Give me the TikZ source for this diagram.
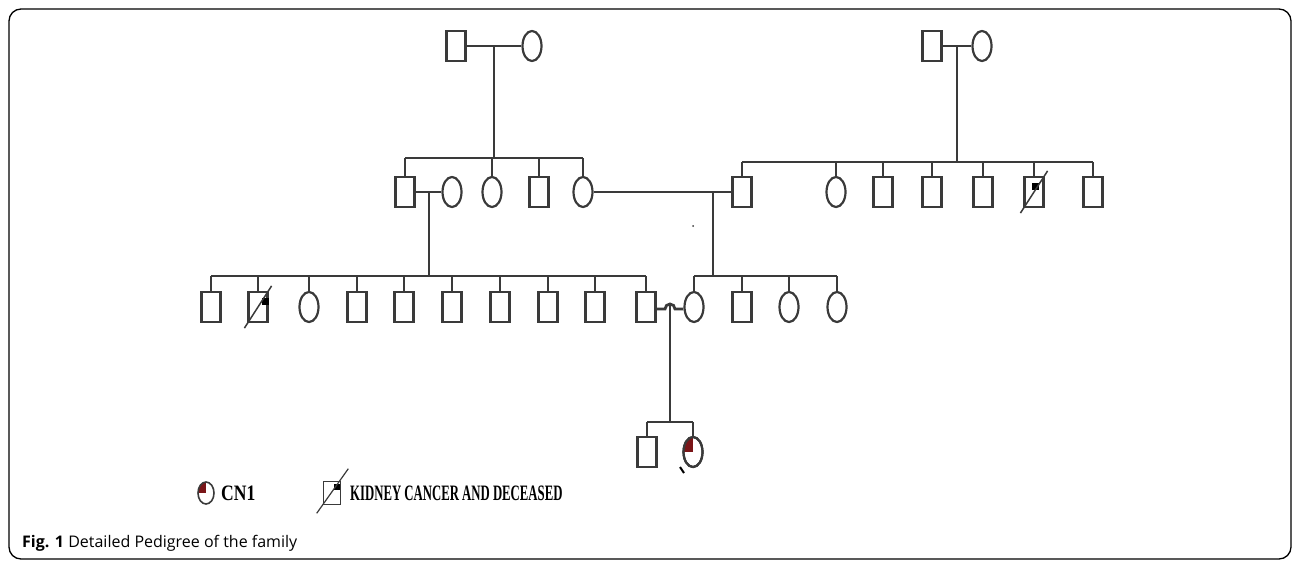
\documentclass[tikz,border=0pt]{standalone}
\usepackage{fontspec}
\setmainfont{Open Sans}
\newfontfamily\legendfont{Liberation Serif}[FakeStretch=0.58]
\newfontfamily\cnfont{Liberation Serif}[FakeStretch=0.8]
\usetikzlibrary{shapes.geometric,calc}
\definecolor{pedline}{HTML}{3A3A3A}
\definecolor{cnred}{HTML}{7A1518}

\begin{document}
\begin{tikzpicture}[x=1pt, y=-1pt,
    male/.style={draw=pedline, rectangle, line width=2.2pt, minimum width=19pt, minimum height=30pt, inner sep=0pt},
    female/.style={draw=pedline, ellipse, line width=2.2pt, minimum width=19pt, minimum height=30pt, inner sep=0pt},
    conn/.style={draw=pedline, line width=1.8pt},
    legtext/.style={font=\bfseries\fontsize{22}{24}\selectfont, inner sep=0pt, anchor=west}
    ]
    \useasboundingbox (0,0) rectangle (1295,565);
    \draw[line width=1.3pt, rounded corners=12pt] (9,9) rectangle (1291,559);

    % Generation I
    \node[male] (I1) at (456,46) {};
    \node[female] (I2) at (532,46) {};
    \node[male] (I3) at (932,46) {};
    \node[female] (I4) at (982,46) {};

    % Generation II
    \node[male] (II1) at (405,192) {};
    \node[female] (II2) at (452,192) {};
    \node[female] (II3) at (492,192) {};
    \node[male] (II4) at (539,192) {};
    \node[female] (II5) at (583,192) {};
    \node[male] (II6) at (742,192) {};
    \node[female] (II7) at (836,192) {};
    \node[male] (II8) at (883,192) {};
    \node[male] (II9) at (932,192) {};
    \node[male] (II10) at (983,192) {};
    \node[male] (II11) at (1034,192) {};
    \node[male] (II12) at (1093,192) {};

    % Generation III
    \node[male] (III1) at (211,307) {};
    \node[male] (III2) at (258,307) {};
    \node[female] (III3) at (309,307) {};
    \node[male] (III4) at (357,307) {};
    \node[male] (III5) at (404,307) {};
    \node[male] (III6) at (452,307) {};
    \node[male] (III7) at (500,307) {};
    \node[male] (III8) at (548,307) {};
    \node[male] (III9) at (595,307) {};
    \node[male] (III10) at (646,307) {};
    \node[female] (III11) at (694,307) {};
    \node[male] (III12) at (742,307) {};
    \node[female] (III13) at (789,307) {};
    \node[female] (III14) at (837,307) {};

    % Generation IV
    \node[male] (IV1) at (647,452) {};
    \node[female] (IV2) at (693,452) {};

    % Sibship lines and descent points
    \coordinate (s1) at (0,158);
    \coordinate (s2) at (0,162);
    \coordinate (s3) at (0,276);
    \coordinate (s4) at (0,422);
    \coordinate (m1) at ($(I1)!0.5!(I2)$);
    \coordinate (m2) at ($(I3)!0.5!(I4)$);
    \coordinate (m3) at (429,192);
    \coordinate (m4) at (713,192);
    \coordinate (hopL) at (665,309);
    \coordinate (hopT) at (670,304);

    % Marriage lines
    \draw[conn] (I1) -- (I2);
    \draw[conn] (I3) -- (I4);
    \draw[conn] (II1) -- (II2);
    \draw[conn] (II5) -- (II6);
    \draw[conn, line width=2.8pt] (III10.east |- hopL) -- (hopL) arc[start angle=180, end angle=0, radius=5pt] -- (III11.west |- hopL);

    % Descent lines
    \draw[conn, line width=1.5pt] (m1) -- (m1 |- s1);
    \draw[conn, line width=1.5pt] (m2) -- (m2 |- s2);
    \draw[conn] (m3) -- (m3 |- s3);
    \draw[conn, line width=1.3pt] (m4) -- (m4 |- s3);
    \draw[conn] (hopT) -- (hopT |- s4);

    % Sibships, generation II
    \draw[conn] (II1.north |- s1) -- (II5.north |- s1);
    \draw[conn] (II1.north) -- (II1.north |- s1);
    \draw[conn] (II3.north) -- (II3.north |- s1);
    \draw[conn] (II4.north) -- (II4.north |- s1);
    \draw[conn] (II5.north) -- (II5.north |- s1);
    \draw[conn] (II6.north |- s2) -- (II12.north |- s2);
    \draw[conn] (II6.north) -- (II6.north |- s2);
    \draw[conn] (II7.north) -- (II7.north |- s2);
    \draw[conn] (II8.north) -- (II8.north |- s2);
    \draw[conn] (II9.north) -- (II9.north |- s2);
    \draw[conn] (II10.north) -- (II10.north |- s2);
    \draw[conn] (II11.north) -- (II11.north |- s2);
    \draw[conn] (II12.north) -- (II12.north |- s2);

    % Sibships, generation III
    \draw[conn] (III1.north |- s3) -- (III10.north |- s3);
    \draw[conn] (III1.north) -- (III1.north |- s3);
    \draw[conn] (III2.north) -- (III2.north |- s3);
    \draw[conn] (III3.north) -- (III3.north |- s3);
    \draw[conn] (III4.north) -- (III4.north |- s3);
    \draw[conn] (III5.north) -- (III5.north |- s3);
    \draw[conn] (III6.north) -- (III6.north |- s3);
    \draw[conn] (III7.north) -- (III7.north |- s3);
    \draw[conn] (III8.north) -- (III8.north |- s3);
    \draw[conn] (III9.north) -- (III9.north |- s3);
    \draw[conn] (III10.north) -- (III10.north |- s3);
    \draw[conn] (III11.north |- s3) -- (III14.north |- s3);
    \draw[conn] (III11.north) -- (III11.north |- s3);
    \draw[conn] (III12.north) -- (III12.north |- s3);
    \draw[conn] (III13.north) -- (III13.north |- s3);
    \draw[conn] (III14.north) -- (III14.north |- s3);

    % Sibship, generation IV
    \draw[conn] (IV1.north |- s4) -- (IV2.north |- s4);
    \draw[conn] (IV1.north) -- (IV1.north |- s4);
    \draw[conn] (IV2.north) -- (IV2.north |- s4);

    % Deceased with kidney cancer
    \fill ($(III2)+(4,-9)$) rectangle +(7,7);
    \draw[conn, line width=1.5pt] ($(III2.south west)+(-3,5)$) -- ($(III2.north east)+(3,-5)$);
    \fill ($(II11)+(-2,-9)$) rectangle +(7,7);
    \draw[conn, line width=1.5pt] ($(II11.south west)+(-3,5)$) -- ($(II11.north east)+(3,-5)$);

    % CN1 proband
    \begin{scope}
      \clip (IV2) ellipse [x radius=9.5pt, y radius=15pt];
      \fill[cnred] (IV2) rectangle ++(-12,-17);
    \end{scope}
    \node[female] (IV2b) at (IV2) {};
    \draw[line width=2pt] (680,467) -- (684,473);
    \fill[pedline] (693,226) circle (1pt);

    % Legend
    \begin{scope}
      \clip (206,493) ellipse [x radius=8pt, y radius=11pt];
      \fill[cnred] (206,493) rectangle ++(-10,-12);
    \end{scope}
    \node[female, minimum width=16pt, minimum height=22pt, line width=1.6pt] (L1) at (206,493) {};
    \node[legtext, font=\cnfont\bfseries\fontsize{22}{24}\selectfont] (L1t) at (221,493) {CN1};
    \node[male, minimum width=17pt, minimum height=23pt, line width=1.6pt] (L2) at (332,493) {};
    \fill ($(L2)+(2,-9)$) rectangle +(6,6);
    \draw[conn, line width=1.2pt] ($(L2.south west)+(-6,8)$) -- ($(L2.north east)+(7,-12)$);
    \node[legtext, font=\legendfont\bfseries\fontsize{22}{24}\selectfont] (L2t) at (350,493) {KIDNEY CANCER AND DECEASED};

    % Caption
    \node[font=\fontsize{16}{19}\selectfont, anchor=base west, inner sep=0pt] (cap) at (22,547) {\textbf{Fig. 1} Detailed Pedigree of the family};
\end{tikzpicture}
\end{document}
